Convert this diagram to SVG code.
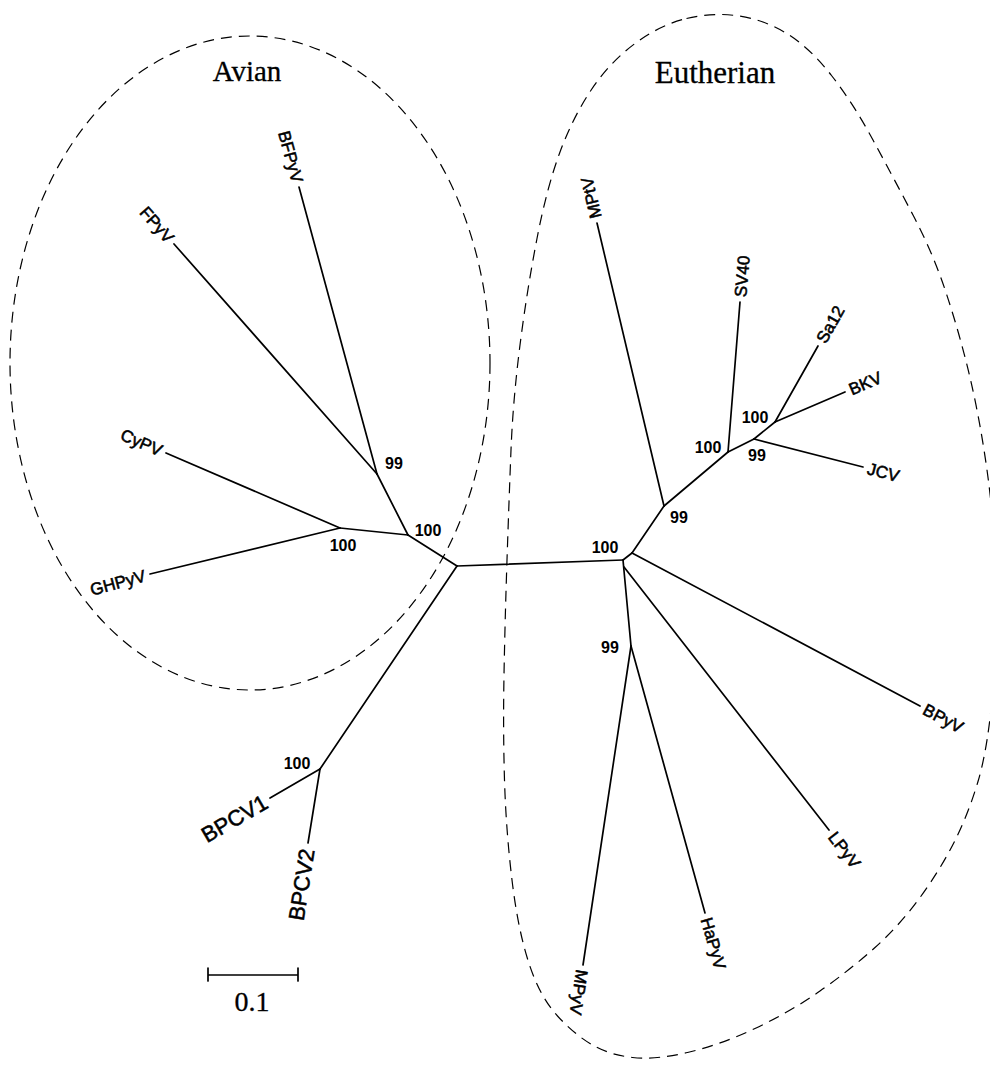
<svg xmlns="http://www.w3.org/2000/svg" width="990" height="1080" viewBox="0 0 990 1080">
<style>
.br{stroke:#000;stroke-width:1.7;fill:none;stroke-linecap:round}
.dash{stroke:#000;stroke-width:1.2;fill:none;stroke-dasharray:11 7}
.lf{font-family:"Liberation Sans",Arial,sans-serif;font-size:17px;fill:#000;stroke:#000;stroke-width:0.55}
.big{font-size:22px}
.bs{font-family:"Liberation Sans",Arial,sans-serif;font-size:16px;font-weight:bold;fill:#000;text-anchor:middle}
.ttl{font-family:"Liberation Serif","Times New Roman",serif;fill:#000;text-anchor:middle;stroke:#000;stroke-width:0.3}
.e{text-anchor:end}
.s{text-anchor:start}
</style>
<rect width="990" height="1080" fill="#fff"/>
<g id="groups">
<ellipse id="avian-outline" class="dash" cx="250" cy="363" rx="240" ry="327"/>
<path id="eutherian-outline" class="dash" d="M686.5,18.5 Q713,12 739,16 Q765,20 787.5,34 Q810,48 831.5,75.5 Q853,103 873,140 Q893,177 913,215 Q933,253 946.5,294 Q960,335 970,377.5 Q980,420 987,470 Q994,520 996,575 Q998,630 993,689 Q988,748 978,781.5 Q968,815 954,842.5 Q940,870 920,897.5 Q900,925 875,947.5 Q850,970 820,991 Q790,1012 755,1028.5 Q720,1045 687.5,1052.5 Q655,1060 632.5,1057.5 Q610,1055 592.5,1045 Q575,1035 557.5,1016 Q540,997 529,963.5 Q518,930 512,880 Q506,830 504.5,780 Q503,730 504,675 Q505,620 507,560 Q509,500 511,450 Q513,400 520,345 Q527,290 537,238.5 Q547,187 560,152 Q573,117 591.5,89.5 Q610,62 635,43.5 Q660,25 686.5,18.5 Z"/>
<text id="avian-title" class="ttl" x="247" y="81" font-size="29">Avian</text>
<text id="eutherian-title" class="ttl" x="715" y="83" font-size="31">Eutherian</text>
</g>
<g id="connectors">
<line class="br" x1="457" y1="566" x2="623" y2="560"/>
<line class="br" x1="457" y1="566" x2="408" y2="535"/>
<line class="br" x1="457" y1="566" x2="320" y2="769"/>
<line class="br" x1="408" y1="535" x2="340" y2="528"/>
<line class="br" x1="408" y1="535" x2="377" y2="474"/>
<line class="br" x1="377" y1="474" x2="299" y2="187"/>
<line class="br" x1="377" y1="474" x2="174" y2="244"/>
<line class="br" x1="340" y1="528" x2="166" y2="453"/>
<line class="br" x1="340" y1="528" x2="150" y2="574"/>
<line class="br" x1="320" y1="769" x2="270" y2="798"/>
<line class="br" x1="320" y1="769" x2="308" y2="843"/>
<line class="br" x1="623" y1="560" x2="632" y2="553"/>
<line class="br" x1="632" y1="553" x2="664" y2="506"/>
<line class="br" x1="632" y1="553" x2="920" y2="706"/>
<line class="br" x1="623" y1="560" x2="631" y2="646"/>
<line class="br" x1="624" y1="567" x2="829" y2="830"/>
<line class="br" x1="631" y1="646" x2="705" y2="913"/>
<line class="br" x1="631" y1="646" x2="583" y2="965"/>
<line class="br" x1="664" y1="506" x2="597" y2="223"/>
<line class="br" x1="664" y1="506" x2="728" y2="452"/>
<line class="br" x1="728" y1="452" x2="740" y2="302"/>
<line class="br" x1="728" y1="452" x2="754" y2="439"/>
<line class="br" x1="754" y1="439" x2="863" y2="467"/>
<line class="br" x1="754" y1="439" x2="775" y2="422"/>
<line class="br" x1="775" y1="422" x2="818" y2="346"/>
<line class="br" x1="775" y1="422" x2="845" y2="392"/>
</g>
<g id="support">
<text class="bs" x="394" y="469">99</text>
<text class="bs" x="428" y="536">100</text>
<text class="bs" x="343" y="551">100</text>
<text class="bs" x="297" y="769">100</text>
<text class="bs" x="605" y="553">100</text>
<text class="bs" x="679" y="523">99</text>
<text class="bs" x="610" y="653">99</text>
<text class="bs" x="708" y="453">100</text>
<text class="bs" x="757" y="461">99</text>
<text class="bs" x="755" y="423">100</text>
</g>
<g id="BFPyV"><text class="lf e" transform="translate(299,187) rotate(74.8)" x="-5" dy="0.35em">BFPyV</text></g>
<g id="FPyV"><text class="lf e" transform="translate(174,244) rotate(48.6)" x="-5" dy="0.35em">FPyV</text></g>
<g id="CyPV"><text class="lf e" transform="translate(166,453) rotate(23.3)" x="-5" dy="0.35em">CyPV</text></g>
<g id="GHPyV"><text class="lf e" transform="translate(150,574) rotate(-15)" x="-5" dy="0.35em">GHPyV</text></g>
<g id="BPCV1"><text class="lf big e" transform="translate(270,798) rotate(-30)" x="-5" dy="0.35em">BPCV1</text></g>
<g id="BPCV2"><text class="lf big e" transform="translate(308,843) rotate(-81)" x="-6" dy="0.35em">BPCV2</text></g>
<g id="MPtV"><text class="lf s" transform="translate(597,223) rotate(-103.3)" x="5" dy="0.35em">MPtV</text></g>
<g id="SV40"><text class="lf s" transform="translate(740,302) rotate(-85.4)" x="5" dy="0.35em">SV40</text></g>
<g id="Sa12"><text class="lf s" transform="translate(818,346) rotate(-60.5)" x="5" dy="0.35em">Sa12</text></g>
<g id="BKV"><text class="lf s" transform="translate(845,392) rotate(-23.2)" x="5" dy="0.35em">BKV</text></g>
<g id="JCV"><text class="lf s" transform="translate(863,467) rotate(14.4)" x="5" dy="0.35em">JCV</text></g>
<g id="BPyV"><text class="lf s" transform="translate(920,706) rotate(28)" x="5" dy="0.35em">BPyV</text></g>
<g id="LPyV"><text class="lf s" transform="translate(829,830) rotate(52.2)" x="5" dy="0.35em">LPyV</text></g>
<g id="HaPyV"><text class="lf s" transform="translate(705,913) rotate(74.5)" x="5" dy="0.35em">HaPyV</text></g>
<g id="MPyV"><text class="lf s" transform="translate(583,965) rotate(98.6)" x="5" dy="0.35em">MPyV</text></g>
<g id="scale-bar">
<path class="br" d="M208,975 H298 M208,968 V981 M298,968 V981" stroke-linecap="butt"/>
<text class="ttl" x="252" y="1011" font-size="28">0.1</text>
</g>
</svg>
